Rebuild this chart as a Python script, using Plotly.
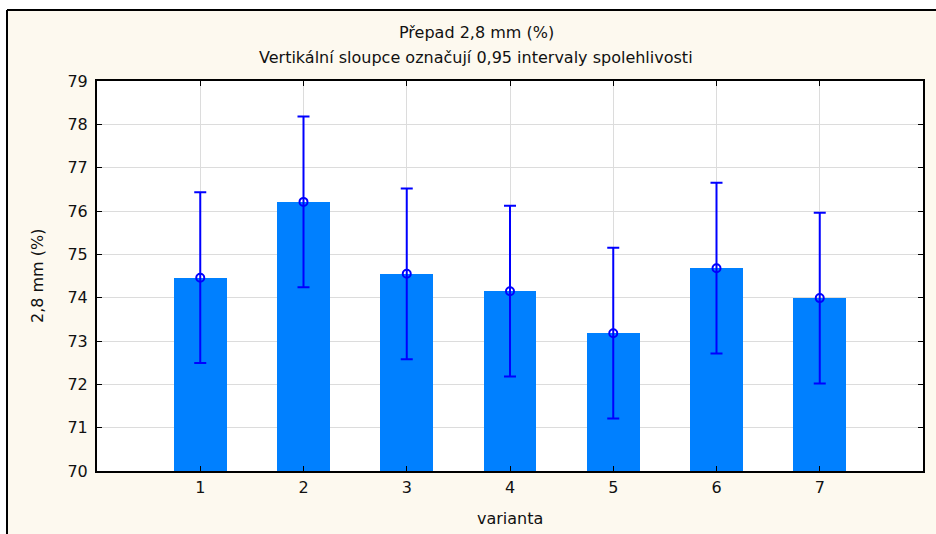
import plotly.graph_objects as go

# Mean values and 0.95 confidence bounds for each variant
varianta = [1, 2, 3, 4, 5, 6, 7]
prumer = [74.46, 76.21, 74.55, 74.15, 73.18, 74.68, 73.99]
horni_mez = [76.43, 78.18, 76.52, 76.12, 75.15, 76.65, 75.96]
dolni_mez = [72.49, 74.24, 72.58, 72.18, 71.21, 72.71, 72.02]

y_ticks = [70, 71, 72, 73, 74, 75, 76, 77, 78, 79]

err_plus = [h - m for h, m in zip(horni_mez, prumer)]
err_minus = [m - d for m, d in zip(prumer, dolni_mez)]

W, H = 936, 534
ML, MR, MT, MB = 97, 13, 81, 63
pw = W - ML - MR
ph = H - MT - MB

def px_x(x):
    return (x - ML) / pw

def px_y(y):
    return 1 - (y - MT) / ph

FONT = "DejaVu Sans, Verdana, sans-serif"
FS = 16

fig = go.Figure()

fig.add_trace(go.Bar(
    x=varianta,
    y=[m - 70 for m in prumer],
    base=70,
    width=0.51,
    marker=dict(color="#0080FF", line=dict(width=0)),
    hoverinfo="skip",
    showlegend=False,
))

fig.add_trace(go.Scatter(
    x=varianta,
    y=prumer,
    mode="markers",
    marker=dict(symbol="circle-open", size=8, color="#0000FF", line=dict(width=2, color="#0000FF")),
    error_y=dict(type="data", symmetric=False, array=err_plus, arrayminus=err_minus,
                 color="#0000FF", thickness=2, width=6),
    showlegend=False,
))

axis_common = dict(
    showline=True, linecolor="black", linewidth=2, mirror="ticks",
    ticks="inside", ticklen=5, tickwidth=1, tickcolor="black",
    showgrid=True, gridcolor="#DCDCDC", gridwidth=1, zeroline=False,
    tickfont=dict(family=FONT, size=FS, color="#111111"),
)

fig.update_xaxes(range=[0, 8], tickmode="array", tickvals=varianta,
                 ticktext=[str(v) for v in varianta], ticklabelstandoff=1, **axis_common)
fig.update_yaxes(range=[70, 79], tickmode="array", tickvals=y_ticks,
                 ticktext=[str(v) for v in y_ticks], ticklabelstandoff=4, **axis_common)

shapes = [
    # white margin above and left of the framed panel
    dict(type="rect", xref="paper", yref="paper", x0=px_x(0), x1=px_x(W), y0=px_y(10), y1=px_y(0),
         fillcolor="white", line=dict(width=0), layer="below"),
    dict(type="rect", xref="paper", yref="paper", x0=px_x(0), x1=px_x(7), y0=px_y(H), y1=px_y(0),
         fillcolor="white", line=dict(width=0), layer="below"),
    # frame lines of the panel
    dict(type="line", xref="paper", yref="paper", x0=px_x(7), x1=px_x(W + 5), y0=px_y(10), y1=px_y(10),
         line=dict(color="black", width=2)),
    dict(type="line", xref="paper", yref="paper", x0=px_x(7), x1=px_x(7), y0=px_y(10), y1=px_y(H + 5),
         line=dict(color="black", width=2)),
]

txt_font = dict(family=FONT, size=FS, color="#111111")
annotations = [
    dict(text="Přepad 2,8 mm (%)", x=px_x(476), y=px_y(32), xref="paper", yref="paper",
         showarrow=False, font=txt_font, xanchor="center", yanchor="middle"),
    dict(text="Vertikální sloupce označují 0,95 intervaly spolehlivosti", x=px_x(476), y=px_y(57),
         xref="paper", yref="paper", showarrow=False, font=txt_font, xanchor="center", yanchor="middle"),
    dict(text="varianta", x=0.5, y=px_y(518), xref="paper", yref="paper", showarrow=False,
         font=txt_font, xanchor="center", yanchor="middle"),
    dict(text="2,8 mm (%)", x=px_x(37), y=0.5, xref="paper", yref="paper", showarrow=False,
         textangle=-90, font=dict(family=FONT, size=FS, color="#111111"), xanchor="center", yanchor="middle"),
]

fig.update_layout(
    width=W, height=H,
    margin=dict(l=ML, r=MR, t=MT, b=MB, pad=0),
    paper_bgcolor="#FDF9EF",
    plot_bgcolor="white",
    shapes=shapes,
    annotations=annotations,
    bargap=0,
)

fig.write_html("out.html")
